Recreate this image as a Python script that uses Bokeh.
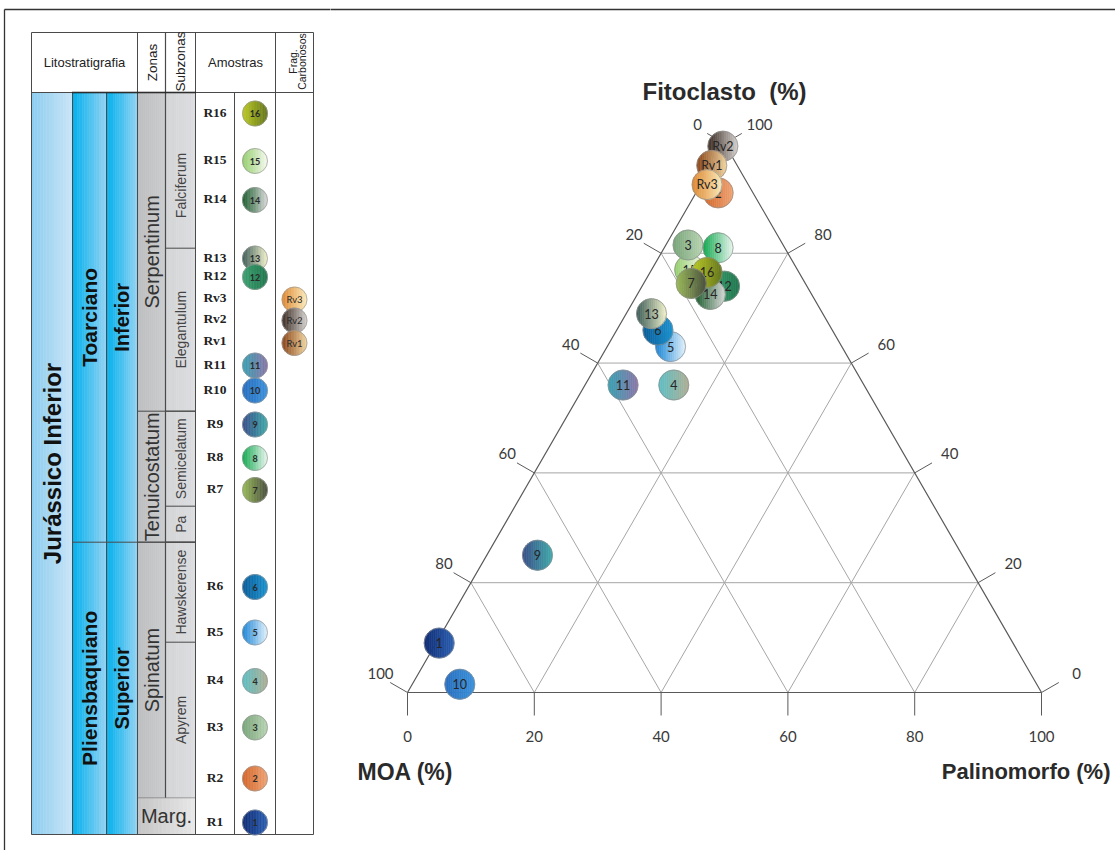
import numpy as np
from bokeh.plotting import figure
from bokeh.layouts import row
from bokeh.models import Range1d
from bokeh.embed import file_html
from bokeh.resources import INLINE
from bokeh.core.properties import value

# ---------------------------------------------------------------------------
# Ternary composition of the samples (%)
# ---------------------------------------------------------------------------
sample_ids = ["1", "2", "3", "4", "5", "6", "7", "8", "9", "10",
              "11", "12", "13", "14", "15", "16", "Rv1", "Rv2", "Rv3"]
fitoclasto = [9.0, 91.0, 81.5, 56.0, 63.0, 66.0, 74.5, 81.0, 25.0, 1.5,
              56.0, 74.0, 69.0, 72.5, 77.0, 76.5, 96.0, 99.5, 92.5]
moa = [90.5, 5.5, 15.0, 30.0, 27.0, 27.5, 18.0, 10.5, 67.0, 91.0,
       38.0, 13.0, 27.0, 16.0, 17.0, 14.5, 4.0, 0.5, 6.5]
palinomorfo = [0.5, 3.5, 3.5, 14.0, 10.0, 6.5, 7.5, 8.5, 8.0, 7.5,
               6.0, 13.0, 4.0, 11.5, 6.0, 9.0, 0.0, 0.0, 1.0]

tern_ticks = [0, 20, 40, 60, 80, 100]

# ---------------------------------------------------------------------------
# Stratigraphic log (depth measured downward on the log)
# ---------------------------------------------------------------------------
log_samples = ["R16", "R15", "R14", "R13", "R12", "R11", "R10", "R9",
               "R8", "R7", "R6", "R5", "R4", "R3", "R2", "R1"]
log_depth = [113, 160.5, 199.5, 258, 276.5, 365, 390, 424,
             457.5, 489.5, 586.5, 632, 680.5, 727, 778, 822]
frag_samples = ["Rv3", "Rv2", "Rv1"]
frag_depth = [299, 320, 342.5]

series_units = [("Jurássico Inferior", 92, 834)]
stage_units = [("Toarciano", 92, 541.7), ("Pliensbaquiano", 541.7, 834)]
substage_units = [("Inferior", 92, 541.7), ("Superior", 541.7, 834)]
zone_units = [("Serpentinum", 92, 410.7), ("Tenuicostatum", 410.7, 541.7),
              ("Spinatum", 541.7, 797.3)]
marg_unit = ("Marg.", 797.3, 834)
subzone_units = [("Falciferum", 92, 247.7), ("Elegantulum", 247.7, 410.7),
                 ("Semicelatum", 410.7, 505.7), ("Pa", 505.7, 541.7),
                 ("Hawskerense", 541.7, 641.7), ("Apyrem", 641.7, 797.3)]

# ---------------------------------------------------------------------------
# Styles
# ---------------------------------------------------------------------------
disc_colors = {
    "1": ("#102c74", "#2c60b2"), "2": ("#d2652a", "#efa474"),
    "3": ("#78a47a", "#b8d4b2"), "4": ("#5cbfc4", "#aeae96"),
    "5": ("#1884d6", "#e2f1fb"), "6": ("#0a5c98", "#1c92ce"),
    "7": ("#9cbc5a", "#4a5040"), "8": ("#0ea84e", "#eaf5ee"),
    "9": ("#3a4c88", "#40aaaa"), "10": ("#286ebf", "#3c92da"),
    "11": ("#38a2b2", "#8a76a8"), "12": ("#3ca270", "#21774f"),
    "13": ("#3a5a56", "#f2f2cc"), "14": ("#185a2a", "#dadada"),
    "15": ("#94ce6c", "#f5f9ee"), "16": ("#bccb22", "#66761e"),
    "Rv1": ("#884216", "#f2d6a2"), "Rv2": ("#3a2a22", "#d6d2ce"),
    "Rv3": ("#de8830", "#fcebbc"),
}
tern_draw_order = ["10", "1", "9", "11", "4", "5", "6", "13",
                   "12", "14", "15", "3", "8", "16", "7",
                   "2", "Rv2", "Rv1", "Rv3"]

SANS = value("Liberation Sans")
LBL = value("Lato")
SERIF = value("Liberation Serif")
SQ3 = np.sqrt(3.0)
NBSP = "\u00a0"


def mix(c0, c1, t):
    a = [int(c0[i:i + 2], 16) for i in (1, 3, 5)]
    b = [int(c1[i:i + 2], 16) for i in (1, 3, 5)]
    return "#%02x%02x%02x" % tuple(int(round(a[k] + (b[k] - a[k]) * t)) for k in range(3))


def gradient_box(p, x0, x1, y0, y1, c0, c1, n=14):
    edges = np.linspace(x0, x1, n + 1)
    cols = [mix(c0, c1, (i + 0.5) / n) for i in range(n)]
    p.quad(left=edges[:-1].tolist(), right=edges[1:].tolist(), top=y0, bottom=y1,
           fill_color=cols, line_color=cols, line_width=0.6)


def gradient_disc(p, cx, cy, r, c0, c1, n=16, edge="#8e8e8e"):
    xs, ys, cols = [], [], []
    edges = np.linspace(-r, r, n + 1)
    for i in range(n):
        t = np.linspace(edges[i], edges[i + 1], 6)
        h = np.sqrt(np.maximum(r * r - t * t, 0.0))
        xs.append((cx + np.concatenate([t, t[::-1]])).tolist())
        ys.append((cy + np.concatenate([h, -h[::-1]])).tolist())
        cols.append(mix(c0, c1, (i + 0.5) / n))
    p.patches(xs, ys, fill_color=cols, line_color=cols, line_width=0.6)
    p.circle([cx], [cy], radius=r, fill_color=None, line_color=edge, line_width=0.7)


def bare(p):
    p.axis.visible = False
    p.grid.visible = False
    p.outline_line_color = None
    p.min_border = 0
    p.background_fill_color = "white"
    p.border_fill_color = "white"


# ===========================================================================
# Left panel: stratigraphic column
# ===========================================================================
WL, H = 330, 850
left = figure(width=WL, height=H, x_range=Range1d(0, WL), y_range=Range1d(H, 0),
              output_backend="svg", toolbar_location=None)
bare(left)

XL, X1, X2, X3, X4, X5, X6, X7, XR = 31, 72, 106, 137, 165, 195, 234, 275, 313
YH0, YH1 = 32, 92
YB = 834
LINE = "#4a4a4a"

# coloured columns
for name, top, base in series_units:
    gradient_box(left, XL, X1, top, base, "#8ccdf0", "#cae5f6")
for name, top, base in stage_units:
    gradient_box(left, X1, X2, top, base, "#00b0ec", "#94d3f3")
for name, top, base in substage_units:
    gradient_box(left, X2, X3, top, base, "#00b0ec", "#94d3f3")
for name, top, base in zone_units:
    gradient_box(left, X3, X4, top, base, "#bcbdbf", "#cbcccd")
for name, top, base in subzone_units:
    gradient_box(left, X4, X5, top, base, "#d3d4d6", "#dcdde0")
gradient_box(left, X3, X5, marg_unit[1], marg_unit[2], "#c4c4c4", "#e8e8e8")

# frame of the whole page
left.line([4, 4], [9, H + 2], line_color="#333333", line_width=1.3)
left.line([4, WL + 2], [9, 9], line_color="#333333", line_width=1.3)

# table lines
for y in (YH0, YH1, YB):
    left.line([XL, XR], [y, y], line_color=LINE, line_width=1)
for x in (XL, X3, X5, X7, XR):
    left.line([x, x], [YH0, YB], line_color=LINE, line_width=1)
for x in (X1, X2, X6):
    left.line([x, x], [YH1, YB], line_color=LINE, line_width=1)
left.line([X4, X4], [YH0, marg_unit[1]], line_color=LINE, line_width=1.2)
left.line([X1, X5], [YH1, YH1], line_color="#111111", line_width=2.2, line_dash="1 1")

# unit boundaries
for name, top, base in stage_units[1:]:
    left.line([X1, X5], [top, top], line_color=LINE, line_width=1)
for name, top, base in zone_units[1:]:
    left.line([X3, X5], [top, top], line_color=LINE, line_width=1)
for name, top, base in subzone_units[1:]:
    left.line([X4, X5], [top, top], line_color=LINE, line_width=1)
left.line([X3, X5], [marg_unit[1], marg_unit[1]], line_color="#555555",
          line_width=1, line_dash="1 1")

# header texts
left.text([(XL + X3) / 2], [62], text=["Litostratigrafia"], text_font=SANS,
          text_font_size="13px", text_align="center", text_baseline="middle",
          text_color="#222222")
left.text([(X7 + X5) / 2], [62], text=["Amostras"], text_font=SANS,
          text_font_size="13px", text_align="center", text_baseline="middle",
          text_color="#222222")
left.text([(X3 + X4) / 2 + 0.5, (X4 + X5) / 2], [62, 61], text=["Zonas", "Subzonas"],
          angle=np.pi / 2, text_font=SANS, text_font_size="13.5px",
          text_align="center", text_baseline="middle", text_color="#222222")
left.text([292.5, 301.5], [61, 61], text=["Frag.", "Carbonosos"], angle=np.pi / 2,
          text_font=SANS, text_font_size="10.5px", text_align="center",
          text_baseline="middle", text_color="#222222")

# unit names
def unit_labels(units, xc, size, style, color, pos=None):
    for name, top, base in units:
        yc = (top + base) / 2 if not pos or name not in pos else pos[name]
        left.text([xc], [yc], text=[name], angle=np.pi / 2, text_font=SANS,
                  text_font_size=size, text_font_style=style, text_color=color,
                  text_align="center", text_baseline="middle")

unit_labels(series_units, (XL + X1) / 2, "24px", "bold", "#111111")
unit_labels(stage_units, (X1 + X2) / 2, "21px", "bold", "#111111")
unit_labels(substage_units, (X2 + X3) / 2, "20px", "bold", "#111111")
unit_labels(zone_units, (X3 + X4) / 2, "20px", "normal", "#333333")
unit_labels(subzone_units, (X4 + X5) / 2, "14px", "normal", "#444444",
            pos={"Falciferum": 185})
left.text([(X3 + X5) / 2], [(marg_unit[1] + marg_unit[2]) / 2], text=[marg_unit[0]],
          text_font=SANS, text_font_size="20px", text_color="#333333",
          text_align="center", text_baseline="middle")

# samples on the log
lab_x = (X5 + X6) / 2
disc_x = (X6 + X7) / 2
frag_x = (X7 + XR) / 2
left.text([lab_x] * len(log_samples), [d - 1.5 for d in log_depth], text=log_samples,
          text_font=SERIF, text_font_size="13.5px", text_font_style="bold",
          text_color="#222222", text_align="center", text_baseline="middle")
left.text([lab_x] * len(frag_samples), [d - 2.5 for d in frag_depth], text=frag_samples,
          text_font=SERIF, text_font_size="13.5px", text_font_style="bold",
          text_color="#222222", text_align="center", text_baseline="middle")

for name, d in zip(log_samples, log_depth):
    sid = name[1:]
    c0, c1 = disc_colors[sid]
    gradient_disc(left, disc_x, d, 12.5, c0, c1, edge="#9a9a9a")
    left.text([disc_x], [d], text=[sid], text_font=LBL, text_font_size="9px",
              text_font_style="bold", text_color="#2a2a2a",
              text_align="center", text_baseline="middle")
for name, d in zip(frag_samples, frag_depth):
    c0, c1 = disc_colors[name]
    gradient_disc(left, frag_x, d, 12.5, c0, c1, edge="#9a9a9a")
    left.text([frag_x], [d], text=[name], text_font=LBL, text_font_size="9.5px",
              text_color="#2a2a2a", text_align="center", text_baseline="middle")

# ===========================================================================
# Right panel: ternary diagram Fitoclasto / MOA / Palinomorfo
# ===========================================================================
WR = 1115 - WL
SCALE = 6.34                  # screen px per percent
OX, OY = 407 - WL, 692        # screen position of the MOA vertex in this panel
right = figure(width=WR, height=H,
               x_range=Range1d(-OX / SCALE, (WR - OX) / SCALE),
               y_range=Range1d(-(H - OY) / SCALE, OY / SCALE),
               output_backend="svg", toolbar_location=None)
bare(right)


def tern_xy(f, m, pl):
    tot = f + m + pl
    f, pl = f / tot * 100, pl / tot * 100
    return pl + f / 2, f * SQ3 / 2


def px(d):
    return d / SCALE

# frame of the whole page
right.line([-(OX + 3) / SCALE, (WR - OX + 2) / SCALE], [px(OY - 9)] * 2,
           line_color="#333333", line_width=1.3)

# grid lines
GRID = "#a6a6a6"
for k in tern_ticks[1:-1]:
    for a, b in (((k, 100 - k, 0), (k, 0, 100 - k)),      # constant Fitoclasto
                 ((0, 100 - k, k), (100 - k, 0, k)),      # constant Palinomorfo
                 ((0, k, 100 - k), (100 - k, k, 0))):     # constant MOA
        (xa, ya), (xb, yb) = tern_xy(*a), tern_xy(*b)
        right.line([xa, xb], [ya, yb], line_color=GRID, line_width=1)

# triangle outline
cx, cy = zip(tern_xy(0, 100, 0), tern_xy(0, 0, 100), tern_xy(100, 0, 0), tern_xy(0, 100, 0))
right.line(list(cx), list(cy), line_color="#5a5a5a", line_width=1.2)

TICK = "#5a5a5a"
TFONT = "15px"
TCOL = "#3a3a3a"
# Palinomorfo axis (base)
for k in tern_ticks:
    x, y = tern_xy(0, 100 - k, k)
    right.line([x, x], [y, y - px(23)], line_color=TICK, line_width=1)
right.text([tern_xy(0, 100 - k, k)[0] for k in tern_ticks], [px(-44)] * len(tern_ticks),
           text=[str(k) for k in tern_ticks], text_font=LBL, text_font_size=TFONT,
           text_color=TCOL, text_align="center", text_baseline="middle")
# MOA axis (left side)
for k in tern_ticks:
    x, y = tern_xy(100 - k, k, 0)
    right.line([x, x - px(20) * SQ3 / 2], [y, y + px(10)], line_color=TICK, line_width=1)
    right.text([x - px(27)], [y + px(19)], text=[str(k)], text_font=LBL,
               text_font_size=TFONT, text_color=TCOL, text_align="center",
               text_baseline="middle")
# Fitoclasto axis (right side)
for k in tern_ticks:
    x, y = tern_xy(k, 0, 100 - k)
    right.line([x, x + px(20) * SQ3 / 2], [y, y + px(10)], line_color=TICK, line_width=1)
    right.text([x + px(35)], [y + px(19)], text=[str(k)], text_font=LBL,
               text_font_size=TFONT, text_color=TCOL, text_align="center",
               text_baseline="middle")

# axis titles
right.text([50], [px(OY - 91)], text=["Fitoclasto" + NBSP + NBSP + "(%)"], text_font=SANS,
           text_font_size="24px", text_font_style="bold", text_color="#2a2a2a",
           text_align="center", text_baseline="middle")
right.text([px(357 - 407)], [px(OY - 771)], text=["MOA (%)"], text_font=SANS,
           text_font_size="23px", text_font_style="bold", text_color="#2a2a2a",
           text_align="left", text_baseline="middle")
right.text([px(1110 - 407)], [px(OY - 771)], text=["Palinomorfo (%)"], text_font=SANS,
           text_font_size="22px", text_font_style="bold", text_color="#2a2a2a",
           text_align="right", text_baseline="middle")

# sample discs
idx = {s: i for i, s in enumerate(sample_ids)}
R_T = px(15)
for sid in tern_draw_order:
    i = idx[sid]
    x, y = tern_xy(fitoclasto[i], moa[i], palinomorfo[i])
    c0, c1 = disc_colors[sid]
    gradient_disc(right, x, y, R_T, c0, c1)
    right.text([x], [y], text=[sid], text_font=LBL, text_font_size="12.5px",
               text_color="#262626", text_align="center", text_baseline="middle")

layout = row(left, right)
open("out.html", "w").write(file_html(layout, INLINE))
